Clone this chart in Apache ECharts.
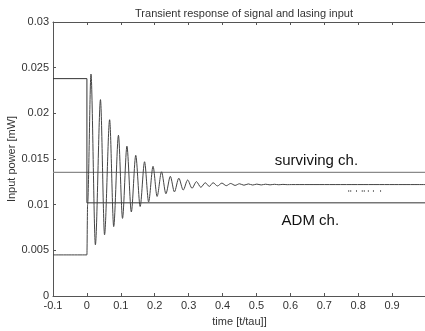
<!DOCTYPE html>
<html>
<head>
<meta charset="utf-8">
<script src="https://cdn.jsdelivr.net/npm/echarts@6/dist/echarts.min.js"></script>
<style>
html,body{margin:0;padding:0;background:#fff;}
#c{width:425px;height:331px;}
</style>
</head>
<body>
<div id="c"></div>
<script>
// ---- data ----
var xTickLabels = ['-0.1','0','0.1','0.2','0.3','0.4','0.5','0.6','0.7','0.8','0.9','1'];
var yTickLabels = ['0','0.005','0.01','0.015','0.02','0.025','0.03'];

// ADM channel (drops at t=0)
var admT = [-0.1, 0, 0, 1.0];
var admV = [0.0238, 0.0238, 0.0102, 0.0102];

// surviving channel
var survT = [-0.1, 1.0];
var survV = [0.01354, 0.01354];

// oscillating transient
var oscT = [-0.1, 0.0, 0.002, 0.012, 0.025, 0.040, 0.052, 0.067, 0.079, 0.093, 0.105, 0.118,
            0.131, 0.144, 0.157, 0.170, 0.182, 0.195, 0.207, 0.220, 0.233, 0.246, 0.258,
            0.271, 0.284, 0.297, 0.310, 0.323, 0.336, 0.349, 0.361, 0.372, 0.385, 0.398,
            0.411, 0.424, 0.437, 0.450, 0.463, 0.476, 0.489, 0.501, 0.514, 0.527, 0.540,
            0.553, 0.566, 0.578, 0.591, 0.604, 1.0];
var oscV = [0.0045, 0.0045, 0.0100, 0.0243, 0.0056, 0.0215, 0.0067, 0.0193, 0.0076, 0.0176, 0.0085, 0.0164,
            0.0092, 0.0154, 0.0098, 0.0147, 0.0103, 0.0142, 0.0109, 0.0136, 0.0112, 0.0131, 0.0114,
            0.0129, 0.0116, 0.0127, 0.0118, 0.01252, 0.0119, 0.0124, 0.01200, 0.01240, 0.01205, 0.01236,
            0.01208, 0.01232, 0.01211, 0.01229, 0.01213, 0.01227, 0.01215, 0.01225, 0.01216, 0.01224, 0.01217,
            0.01223, 0.01218, 0.01222, 0.01219, 0.0122, 0.0122];

// stray dots
var dotT = [0.772, 0.778, 0.795, 0.812, 0.818, 0.830, 0.845, 0.866];
var dotV = [0.0115, 0.0115, 0.0115, 0.0115, 0.0115, 0.0115, 0.0115, 0.0115];

// annotations
var noteText = ['surviving ch.', 'ADM ch.'];
var noteT = [0.554, 0.574];
var noteV = [0.01478, 0.00821];

function zip(a, b) { return a.map(function (v, i) { return [v, b[i]]; }); }

var chart = echarts.init(document.getElementById('c'), null, {renderer: 'canvas'});
var FONT = '"Liberation Sans", Arial, sans-serif';
var axisCol = '#555';
var txtCol = '#333';

var xFmt = function (v) {
  var i = Math.round((v + 0.1) / 0.1);
  return xTickLabels[i] || '';
};
var yFmt = function (v) {
  var i = Math.round(v / 0.005);
  return yTickLabels[i] || '';
};

var grid = {left: 53, top: 22, width: 373, height: 274, containLabel: false, outerBoundsMode: 'none'};

chart.setOption({
  animation: false,
  backgroundColor: '#fff',
  title: {
    text: 'Transient response of signal and lasing input',
    left: 239, top: 3, textAlign: 'center',
    textStyle: {fontFamily: FONT, fontSize: 11, fontWeight: 'normal', color: '#333'}
  },
  grid: grid,
  xAxis: [{
    type: 'value', min: -0.1, max: 1.0, interval: 0.1, position: 'bottom',
    name: 'time [t/tau]]', nameLocation: 'middle', nameGap: 20, nameMoveOverlap: false,
    nameTextStyle: {fontFamily: FONT, fontSize: 11, color: txtCol},
    axisLine: {show: true, onZero: false, lineStyle: {color: axisCol, width: 1}},
    axisTick: {show: true, inside: true, length: 3, lineStyle: {color: axisCol}},
    axisLabel: {fontFamily: FONT, fontSize: 11, color: txtCol, margin: 4, formatter: xFmt, showMaxLabel: false},
    splitLine: {show: false}
  }, {
    type: 'value', min: -0.1, max: 1.0, interval: 0.1, position: 'top',
    axisLine: {show: true, onZero: false, lineStyle: {color: axisCol, width: 1}},
    axisTick: {show: true, inside: true, length: 3, lineStyle: {color: axisCol}},
    axisLabel: {show: false},
    splitLine: {show: false}
  }],
  yAxis: [{
    type: 'value', min: 0, max: 0.03, interval: 0.005, position: 'left',
    name: 'Input power [mW]', nameLocation: 'middle', nameGap: 36, nameRotate: 90, nameMoveOverlap: false,
    nameTextStyle: {fontFamily: FONT, fontSize: 11, color: txtCol},
    axisLine: {show: true, onZero: false, lineStyle: {color: axisCol, width: 1}},
    axisTick: {show: true, inside: true, length: 3, lineStyle: {color: axisCol}},
    axisLabel: {fontFamily: FONT, fontSize: 11, color: txtCol, margin: 4, formatter: yFmt},
    splitLine: {show: false}
  }],
  series: [{
    type: 'line', data: zip(survT, survV), symbol: 'none',
    lineStyle: {color: '#8a8a8a', width: 1.3}, z: 2
  }, {
    type: 'line', data: zip(admT, admV), symbol: 'none',
    lineStyle: {color: '#333', width: 1}, z: 3
  }, {
    type: 'line', data: zip(oscT, oscV), symbol: 'none', smooth: 0.3, smoothMonotone: 'x',
    lineStyle: {color: '#444', width: 1}, z: 4
  }, {
    type: 'scatter', data: zip(dotT, dotV), symbol: 'rect', symbolSize: [1, 2],
    itemStyle: {color: '#555'}, z: 4
  }]
});

var g = [];
for (var i = 0; i < noteText.length; i++) {
  var p = chart.convertToPixel({xAxisIndex: 0, yAxisIndex: 0}, [noteT[i], noteV[i]]);
  g.push({
    type: 'text', x: p[0], y: p[1],
    style: {text: noteText[i], font: '15px ' + FONT, fill: '#111', textVerticalAlign: 'middle', verticalAlign: 'middle'}
  });
}
chart.setOption({graphic: g});
</script>
</body>
</html>
